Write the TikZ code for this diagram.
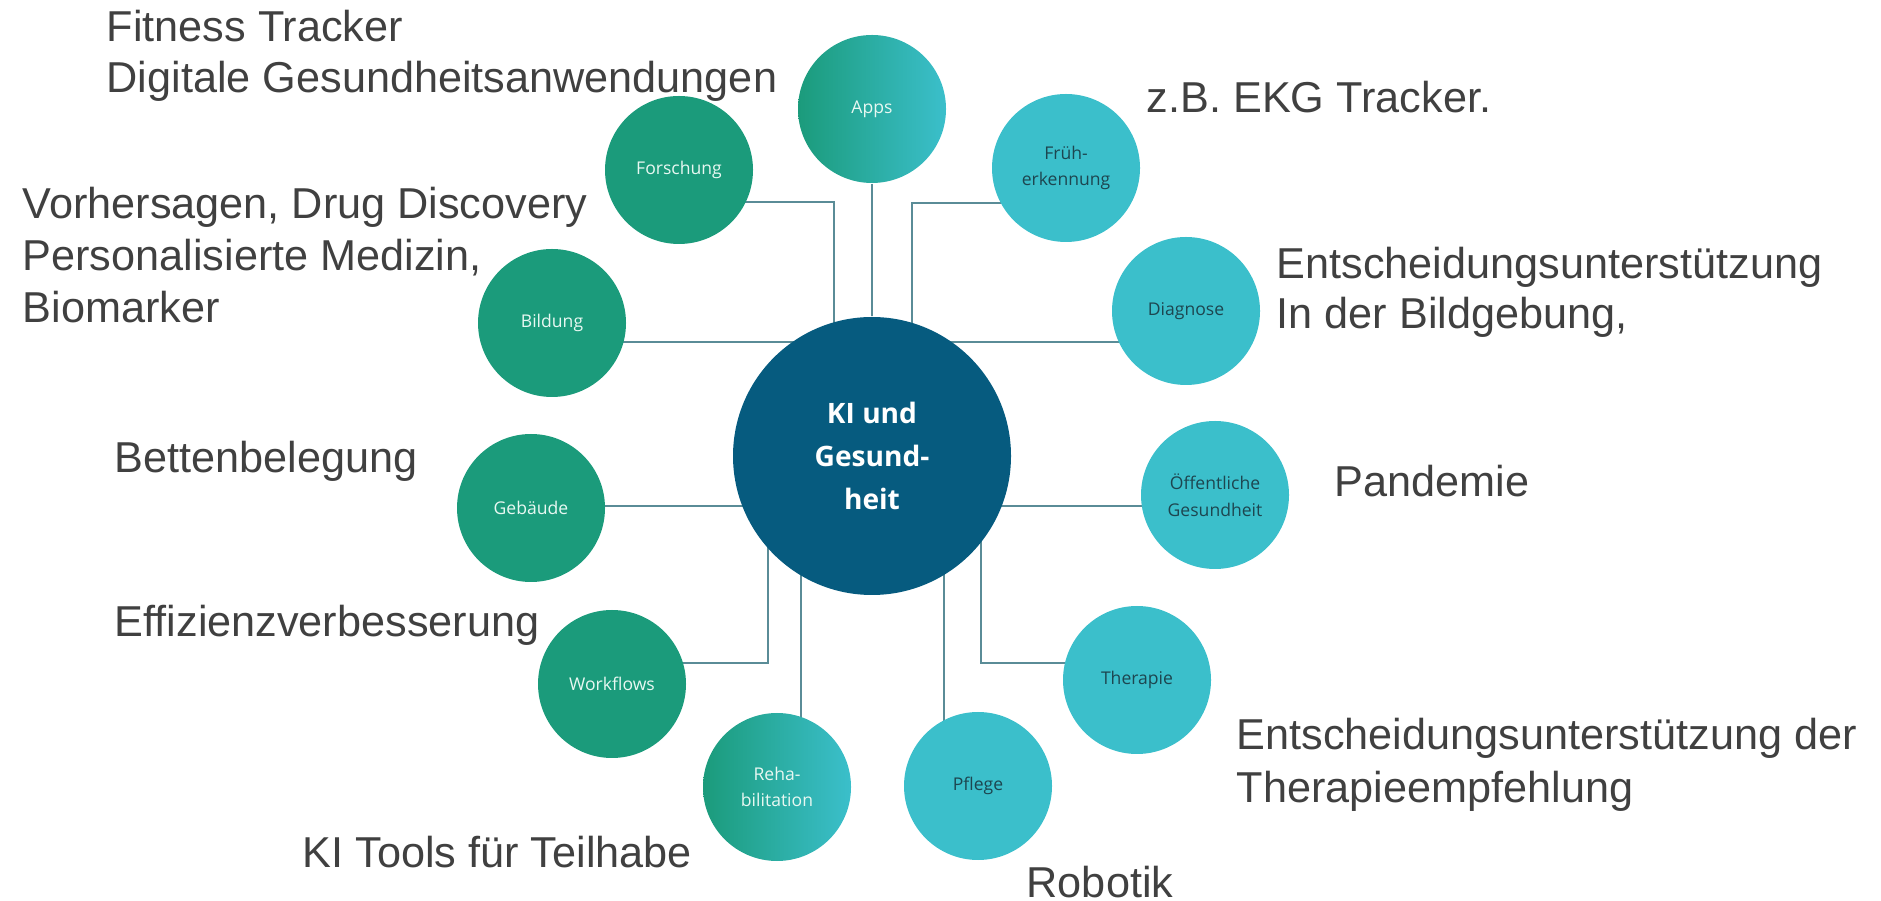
\documentclass[tikz,border=0pt]{standalone}
\usepackage{fontspec}
\setmainfont{Liberation Sans}
\newfontfamily\circfont{Open Sans}
\usetikzlibrary{calc,backgrounds}
\definecolor{kigreen}{HTML}{1B9B7B}
\definecolor{kicyan}{HTML}{3BBFCB}
\definecolor{kiblue}{HTML}{065B7F}
\definecolor{kiline}{HTML}{5A8C97}
\definecolor{kitext}{HTML}{404040}
\definecolor{kilight}{HTML}{E8F8F2}
\definecolor{kidark}{HTML}{1D4650}
\begin{document}
\begin{tikzpicture}[x=0.1mm,y=-0.1mm,
  topic/.style={circle,minimum size=14.8mm,inner sep=0pt,align=center,font=\circfont\fontsize{5}{7.6}\selectfont},
  link/.style={kiline,line width=0.45pt},
  note/.style={anchor=base west,inner sep=0pt,text=kitext,font=\fontsize{12.3}{14}\selectfont}]
\useasboundingbox (0,0) rectangle (1881,901);
\node[circle,fill=kiblue,minimum size=27.8mm,align=center,text=white,font=\circfont\bfseries\fontsize{8}{12.2}\selectfont] (hub) at (872,456) {KI und\\Gesund-\\heit};
\foreach \n/\x/\y/\t in {fo/679/170/Forschung,bi/552/323/Bildung,ge/531/508/Gebäude,wf/612/684/Workflows}
{
\node[topic,fill=kigreen,text=kilight] (\n) at (\x,\y) {\t};
}
\foreach \n/\x/\y/\t in {fr/1066/168/{Früh-\\erkennung},di/1186/311/Diagnose,oe/1215/495/{Öffentliche\\Gesundheit},th/1137/680/Therapie,pf/978/786/Pflege}
{
\node[topic,fill=kicyan,text=kidark] (\n) at (\x,\y) {\t};
}
\node[topic,left color=kigreen,right color=kicyan,text=kilight] (apps) at (872,109) {Apps};
\node[topic,left color=kigreen,right color=kicyan,text=kilight] (re) at (777,787) {Reha-\\bilitation};
\begin{scope}[on background layer]
\draw[link] (apps) -- (hub);
\draw[link] ($(fo)+(0,32)$) -| ($(hub)+(-38,0)$);
\draw[link] ($(fr)+(0,35)$) -| ($(hub)+(40,0)$);
\draw[link] ($(bi)+(0,19)$) -- ($(hub)+(0,-114)$);
\draw[link] ($(di)+(0,31)$) -- ($(hub)+(0,-114)$);
\draw[link] ($(ge)+(0,-2)$) -- ($(hub)+(0,50)$);
\draw[link] ($(oe)+(0,11)$) -- ($(hub)+(0,50)$);
\draw[link] ($(wf)+(0,-21)$) -| ($(hub)+(-104,0)$);
\draw[link] ($(th)+(0,-17)$) -| ($(hub)+(109,0)$);
\draw[link] ($(hub)+(-71,0)$) -- ($(re)+(24,0)$);
\draw[link] ($(hub)+(72,0)$) -- ($(pf)+(-34,0)$);
\end{scope}
\foreach \n/\x/\y/\t in {ft/106/42/Fitness Tracker,dg/106/93/Digitale Gesundheitsanwendungen,ekg/1146/113/z.B. EKG Tracker.,vh/22/219/{Vorhersagen, Drug Discovery},pm/22/271/{Personalisierte Medizin,},bm/22/323/Biomarker,eu/1276/279/Entscheidungsunterstützung,bg/1276/329/{In der Bildgebung,},bb/114/473/Bettenbelegung,pd/1334/497/Pandemie,ef/114/637/Effizienzverbesserung,ed/1236/750/Entscheidungsunterstützung der,te/1236/802/Therapieempfehlung,kt/302/867/KI Tools für Teilhabe,ro/1026/897/Robotik}
{
\node[note] (\n) at (\x,\y) {\t};
}
\end{tikzpicture}
\end{document}
